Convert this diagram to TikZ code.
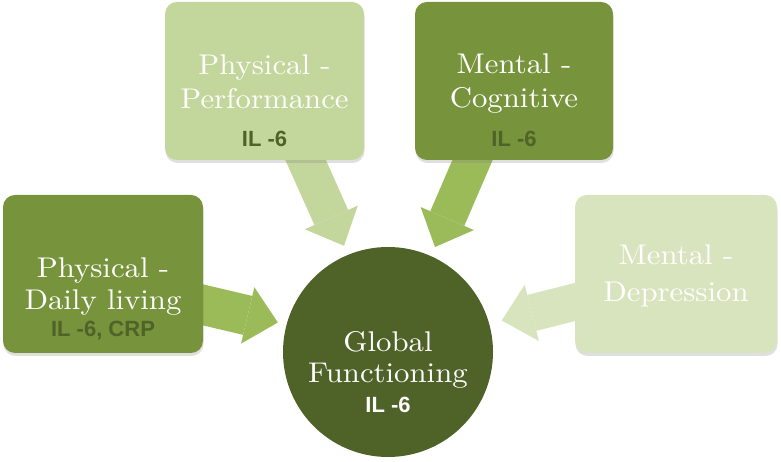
\documentclass[tikz,border=0pt]{standalone}
\usepackage{fontspec}
\newfontfamily\ilfont{Liberation Sans}
\newfontfamily\ttlfont{lmroman10-regular}[Extension=.otf, FakeStretch=1.08]
\usetikzlibrary{arrows.meta,calc,shadows}
\definecolor{gLight}{HTML}{C3D69B}
\definecolor{gPale}{HTML}{D7E4BD}
\definecolor{gMid}{HTML}{77933C}
\definecolor{gArrow}{HTML}{9BBB59}
\definecolor{gDark}{HTML}{4F6228}
\begin{document}
\begin{tikzpicture}[x=1pt,y=1pt,
  box/.style={rounded corners=12pt, minimum width=200pt, minimum height=158pt, inner sep=0pt,
    drop shadow={shadow xshift=0.5pt, shadow yshift=-3pt, fill=black!50, opacity=0.25}},
  ttl/.style={text=white, font=\ttlfont\fontsize{28.5}{28.5}\selectfont, anchor=base, inner sep=0pt},
  il/.style={font=\ilfont\bfseries\fontsize{22}{22}\selectfont, anchor=base, inner sep=0pt},
  barrow/.style={line width=37pt, -{Triangle[length=31pt 0 0, width=58pt 0 0, line width=0pt 0 0]}}]
\useasboundingbox (0,0) rectangle (781,462);

% node positions (boxes + circle)
\path (264.5,381) coordinate (perfc) (514,381) coordinate (cogc)
      (103,188) coordinate (dailyc) (676,188) coordinate (depc)
      (388,110) coordinate (gfc);

% tips of the block arrows
\coordinate (tperf) at ($(gfc)+(112.5:115)$);
\coordinate (tcog) at ($(gfc)+(65.9:115)$);
\coordinate (tdaily) at ($(gfc)+(165:114)$);
\coordinate (tdep) at ($(gfc)+(15.5:118)$);

% starts of the block arrows (hidden under the boxes)
\coordinate (sperf) at ($(perfc)+(37.5,-71)$);
\coordinate (scog) at ($(cogc)+(-38,-71)$);
\coordinate (sdaily) at ($(dailyc)+(92,-29)$);
\coordinate (sdep) at ($(depc)+(-93,-26)$);

% arrows
\draw[barrow, draw=gLight] (sperf) -- (tperf);
\draw[barrow, draw=gArrow] (scog) -- (tcog);
\draw[barrow, draw=gArrow, line width=40pt] (sdaily) -- (tdaily);
\draw[barrow, draw=gPale] (sdep) -- (tdep);

% boxes
\node[box, fill=gLight, minimum width=199pt] (perf) at (perfc) {};
\node[box, fill=gMid, minimum width=198pt] (cog) at (cogc) {};
\node[box, fill=gMid] (daily) at (dailyc) {};
\node[box, fill=gPale, minimum width=202pt] (dep) at (depc) {};
\node[circle, fill=gDark, minimum size=210pt, inner sep=0pt] (gf) at (gfc) {};

% texts
\node[ttl] (perf1) at ($(perf.center)+(0,6)$) {Physical -};
\node[ttl] (perf2) at ($(perf.center)+(0,-28)$) {Performance};
\node[il, text=gDark] (perf3) at ($(perf.center)+(0,-66)$) {IL -6};

\node[ttl] (cog1) at ($(cog.center)+(0,7)$) {Mental -};
\node[ttl] (cog2) at ($(cog.center)+(0,-27)$) {Cognitive};
\node[il, text=gDark] (cog3) at ($(cog.center)+(0,-66)$) {IL -6};

\node[ttl] (daily1) at ($(daily.center)+(0,-4)$) {Physical -};
\node[ttl] (daily2) at ($(daily.center)+(0,-36)$) {Daily living};
\node[il, text=gDark] (daily3) at ($(daily.center)+(0,-63)$) {IL -6, CRP};

\node[ttl] (dep1) at ($(dep.center)+(0,9)$) {Mental -};
\node[ttl] (dep2) at ($(dep.center)+(0,-28)$) {Depression};

\node[ttl] (gf1) at ($(gf.center)+(0,0)$) {Global};
\node[ttl] (gf2) at ($(gf.center)+(0,-31)$) {Functioning};
\node[il, text=white] (gf3) at ($(gf.center)+(0,-61)$) {IL -6};
\end{tikzpicture}
\end{document}
